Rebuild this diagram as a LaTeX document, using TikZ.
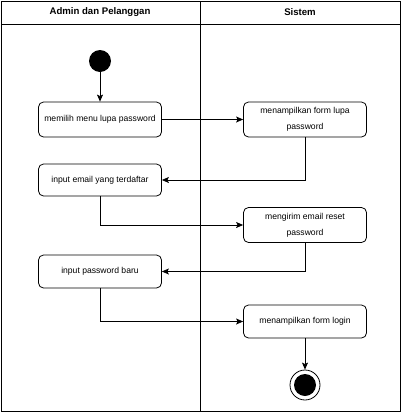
\documentclass[tikz,border=0pt]{standalone}
\usepackage{fontspec}
\setmainfont{Liberation Sans}
\usetikzlibrary{arrows.meta}
\begin{document}
\begin{tikzpicture}[x=1pt,y=-1pt,
  act/.style={draw,line width=0.8pt,rounded corners=5pt,minimum width=123pt,minimum height=35pt,inner sep=1pt,align=center,font=\fontsize{8.6}{16}\selectfont},
  flow/.style={line width=0.8pt,-{Stealth[length=7pt,width=6pt,inset=1.5pt]}},
  hdr/.style={font=\bfseries\fontsize{9.6}{11}\selectfont}]
\useasboundingbox (0,0) rectangle (402,413);
% swimlane frame
\draw[line width=0.8pt] (1,1) rectangle (400,411);
\draw[line width=0.8pt] (1,24) -- (400,24);
\draw[line width=0.8pt] (200,1) -- (200,411);
\node[hdr] (h1) at (100,12.5) {Admin dan Pelanggan};
\node[hdr] (h2) at (300,12.5) {Sistem};
% start
\node[circle,fill=black,minimum size=22pt,inner sep=0] (start) at (100,61) {};
% activities
\node[act] (b1) at (100,119.5) {memilih menu lupa password};
\node[act] (b2) at (305,119.5) {menampilkan form lupa\\password};
\node[act,minimum height=32pt] (b3) at (100,180) {input email yang terdaftar};
\node[act] (b4) at (305,225) {mengirim email reset\\password};
\node[act,minimum height=33pt] (b5) at (100,271.5) {input password baru};
\node[act,minimum height=33pt] (b6) at (305,321.5) {menampilkan form login};
% end
\node[circle,draw,line width=0.8pt,fill=white,minimum size=30pt,inner sep=0] (end) at (305,385) {};
\node[circle,fill=black,minimum size=22pt,inner sep=0] (endin) at (end.center) {};
% flows
\draw[flow] (start) -- (b1);
\draw[flow] (b1) -- (b2);
\draw[flow] (b2.south) |- (b3.east);
\draw[flow] (b3.south) |- (b4.west);
\draw[flow] (b4.south) |- (b5.east);
\draw[flow] (b5.south) |- (b6.west);
\draw[flow] (b6) -- (end);
\end{tikzpicture}
\end{document}
